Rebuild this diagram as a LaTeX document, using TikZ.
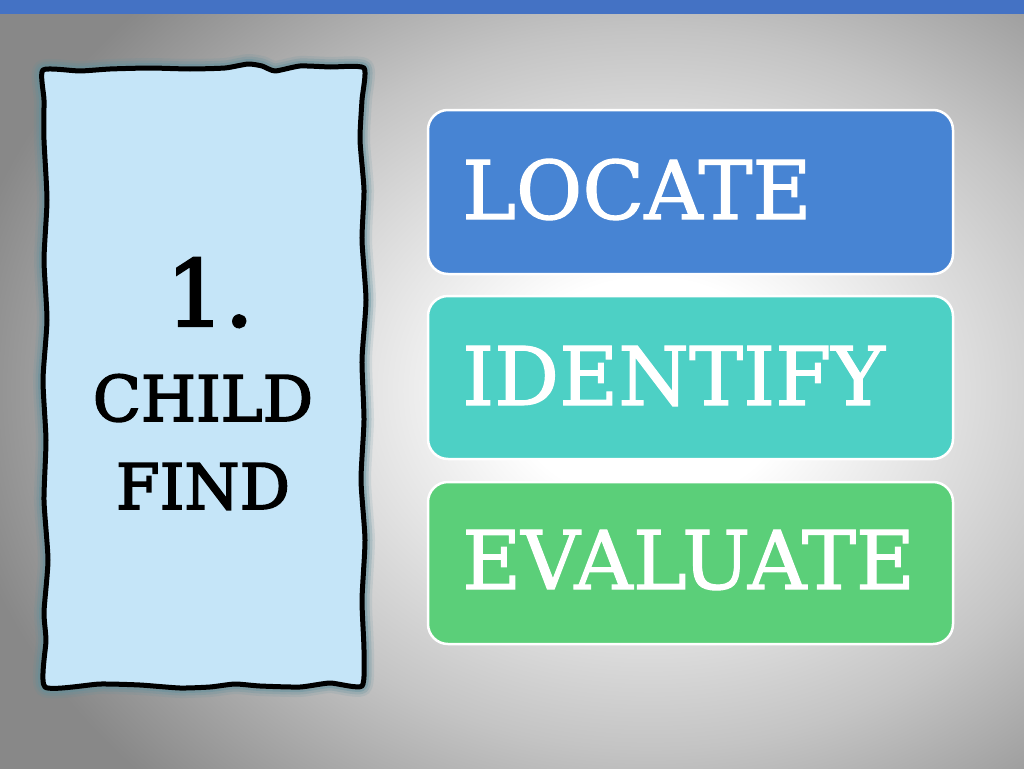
\documentclass[tikz,border=0pt]{standalone}
\usepackage{fontspec}
\setmainfont{DejaVu Serif}[FakeBold=1.4]
\newfontfamily\heavyserif{DejaVu Serif}[FakeBold=2.6]
\definecolor{barblue}{HTML}{4472C4}
\definecolor{locblue}{HTML}{4784D3}
\definecolor{idteal}{HTML}{4DD0C5}
\definecolor{evgreen}{HTML}{5BCF79}
\definecolor{paper}{HTML}{C5E5F8}
\definecolor{glow}{HTML}{5F8F9C}
\definecolor{edge}{HTML}{888888}
\definecolor{mid}{HTML}{C4C4C4}
\pgfdeclareradialshading{bgshade}{\pgfpoint{0bp}{0bp}}{color(0bp)=(white); color(5bp)=(white); color(16bp)=(mid); color(25bp)=(edge); color(50bp)=(edge)}
\tikzset{
  stepbox/.style={draw=white, line width=2.5pt, rounded corners=20pt},
  steptext/.style={anchor=base west, text=white, inner sep=0pt, font=\fontsize{81}{81}\selectfont},
  childtext/.style={anchor=base, text=black, inner sep=0pt}
}
\begin{document}
\begin{tikzpicture}[x=1pt,y=-1pt]
\useasboundingbox (0,0) rectangle (1024,768);
\shade[shading=bgshade] (-50,-170) rectangle (1350,950);
\fill[barblue] (0,0) rectangle (1024,14);
% left wavy box
\def\wavy{plot[smooth cycle, tension=0.35] coordinates {
 (43,70) (80,71) (110,69) (150,68) (190,69) (225,68) (248,64) (262,66) (275,71) (300,66) (330,67) (364,68)
 (362,100) (360,140) (364,190) (362,240) (366,300) (362,360) (364,420) (361,480) (365,540) (362,600) (364,650) (362,686)
 (330,683) (300,687) (260,686) (235,684) (210,687) (180,688) (140,685) (100,684) (45,687)
 (46,640) (44,612) (48,560) (44,500) (46,440) (43,380) (47,320) (44,260) (47,200) (44,140) (44,100)}}
\draw[glow, line width=20pt, opacity=0.15, line join=round] \wavy;
\draw[glow, line width=15pt, opacity=0.25, line join=round] \wavy;
\draw[glow, line width=10pt, opacity=0.4, line join=round] \wavy;
\fill[paper] \wavy;
\draw[black, line width=5pt, line join=round] \wavy;
\node[childtext, font=\heavyserif\fontsize{92}{92}\selectfont] (num) at (210,326) {1.};
\node[childtext, font=\heavyserif\fontsize{63}{63}\selectfont] (child) at (203,421) {CHILD};
\node[childtext, font=\heavyserif\fontsize{63}{63}\selectfont] (find) at (203,509) {FIND};
% right boxes
\filldraw[stepbox, fill=locblue] (428,110) rectangle (953,274);
\node[steptext] (locate) at (462,219) {LOCATE};
\filldraw[stepbox, fill=idteal] (428,296) rectangle (953,459);
\node[steptext] (identify) at (462,405) {IDENTIFY};
\filldraw[stepbox, fill=evgreen] (428,482) rectangle (953,644);
\node[steptext] (evaluate) at (462,589) {EVALUATE};
\end{tikzpicture}
\end{document}
